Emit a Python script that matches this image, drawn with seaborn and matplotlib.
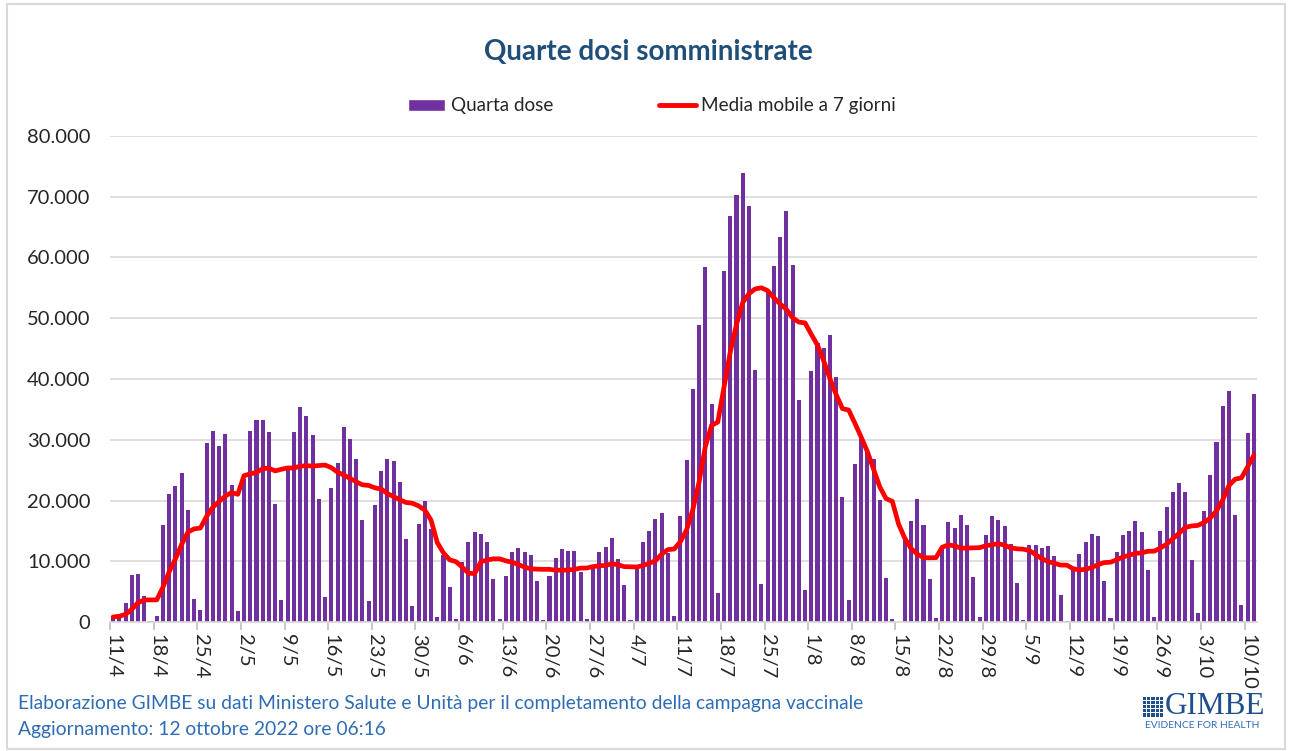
import pandas as pd
import matplotlib.pyplot as plt
import seaborn as sns
from matplotlib.lines import Line2D
from matplotlib.patches import Patch, Rectangle
from matplotlib.ticker import FuncFormatter

# Quarte dosi giornaliere, dall'11 aprile all'11 ottobre 2022
dosi = [
    1000, 1300, 3100, 7750, 7850, 4300, 150,
    1000, 16000, 21000, 22400, 24600, 18480, 3800,
    2000, 29400, 31500, 29000, 30900, 22550, 1760,
    23500, 31500, 33200, 33300, 31350, 19500, 3630,
    25000, 31350, 35350, 33950, 30750, 20300, 4100,
    22050, 26100, 32050, 30150, 26750, 16850, 3400,
    19250, 24800, 26900, 26550, 23100, 13700, 2600,
    16100, 19950, 15350, 770, 11050, 5800, 500,
    9800, 13100, 14750, 14450, 13100, 7100, 500,
    7550, 11450, 12150, 11450, 11050, 6750, 330,
    7550, 10500, 12000, 11750, 11750, 8200, 500,
    9150, 11450, 12400, 13800, 10400, 6100, 400,
    8850, 13100, 14900, 17000, 17900, 11350, 1000,
    17450, 26650, 38300, 48850, 58400, 35850, 4850,
    57850, 66800, 70350, 73950, 68550, 41400, 6200,
    54500, 58600, 63350, 67700, 58750, 36550, 5250,
    41300, 46000, 45150, 47250, 40350, 20500, 3600,
    26000, 30200, 28300, 26750, 20100, 7200, 450,
    0, 13650, 16650, 20250, 15900, 7100, 600,
    12000, 16400, 15450, 17600, 16000, 7350, 770,
    14300, 17450, 16850, 15850, 12800, 6400, 330,
    12700, 12650, 12150, 12550, 10850, 4400, 220,
    8600, 11150, 13100, 14450, 14200, 6700, 660,
    11450, 14400, 15000, 16650, 14750, 8600, 770,
    15000, 18900, 21350, 22950, 21450, 10250, 1400,
    18300, 24200, 29600, 35550, 38050, 17600, 2750,
    31050, 37600,
]

media_mobile = [
    830, 940, 1270, 2090, 3190, 3630, 3640,
    3640, 5740, 8290, 10390, 12780, 14800, 15330,
    15470, 17390, 18890, 19830, 20730, 21310, 21020,
    24090, 24390, 24630, 25250, 25310, 24880, 25140,
    25360, 25340, 25650, 25740, 25650, 25760, 25830,
    25410, 24660, 24190, 23650, 23080, 22580, 22480,
    22080, 21890, 21150, 20640, 20120, 19670, 19560,
    19110, 18420, 16770, 13080, 11360, 10230, 9930,
    9030, 8050, 7960, 9920, 10210, 10400, 10400,
    10070, 9840, 9470, 9040, 8750, 8700, 8670,
    8670, 8540, 8520, 8560, 8670, 8870, 8890,
    9120, 9260, 9310, 9600, 9410, 9110, 9090,
    9050, 9290, 9650, 10100, 11170, 11920, 12010,
    13230, 15170, 18510, 23060, 28860, 32360, 32910,
    38690, 44420, 49000, 52590, 54040, 54830, 55020,
    54540, 53370, 52360, 51470, 50070, 49370, 49240,
    47350, 45560, 42960, 40030, 37410, 35120, 34890,
    32700, 30440, 28040, 25110, 22210, 20310, 19860,
    16140, 13780, 12110, 11180, 10590, 10570, 10590,
    12310, 12700, 12530, 12150, 12170, 12210, 12230,
    12560, 12710, 12900, 12650, 12190, 12050, 11990,
    11760, 11080, 10410, 9940, 9660, 9370, 9360,
    8770, 8560, 8690, 8970, 9450, 9780, 9840,
    10250, 10710, 10980, 11300, 11380, 11640, 11660,
    12170, 12820, 13720, 14610, 15570, 15810, 15900,
    16370, 17120, 18300, 20100, 22470, 23520, 23720,
    25540, 27460,
]

# Etichette dell'asse x, una ogni 7 giorni
etichette_x = ['11/4', '18/4', '25/4', '2/5', '9/5', '16/5', '23/5', '30/5',
               '6/6', '13/6', '20/6', '27/6', '4/7', '11/7', '18/7', '25/7',
               '1/8', '8/8', '15/8', '22/8', '29/8', '5/9', '12/9', '19/9',
               '26/9', '3/10', '10/10']
tick_y = [0, 10000, 20000, 30000, 40000, 50000, 60000, 70000, 80000]

viola = '#7030A0'
rosso = '#FF0000'
blu_titolo = '#1F4E79'
blu_note = '#2E6DB4'

df = pd.DataFrame({'giorno': range(len(dosi)), 'dosi': dosi, 'media': media_mobile})

sns.set_theme(style='white')
plt.rcParams['font.family'] = ['Lato', 'DejaVu Sans']

W, H = 1289, 751
fig = plt.figure(figsize=(W / 100, H / 100), dpi=100)
ax = fig.add_axes([110 / W, 129 / H, 1147 / W, 486 / H])

sns.barplot(data=df, x='giorno', y='dosi', color=viola, saturation=1,
            width=0.65, linewidth=0, ax=ax, zorder=2)
sns.lineplot(data=df, x='giorno', y='media', color=rosso, linewidth=3.4,
             ax=ax, zorder=3)

# Assi e griglia
ax.set_xlim(-0.5, len(dosi) - 0.5)
ax.set_ylim(0, 80000)
ax.set_yticks(tick_y)
ax.yaxis.set_major_formatter(FuncFormatter(lambda v, _: f'{int(v):,}'.replace(',', '.')))
ax.yaxis.grid(True, color='#D9D9D9', linewidth=1.2)
ax.set_axisbelow(True)

pos_etichette = list(range(0, len(dosi), 7))
ax.set_xticks(pos_etichette)
ax.set_xticklabels(etichette_x, rotation=-90, ha='center', va='top')
ax.set_xticks([p - 0.5 for p in pos_etichette], minor=True)
ax.tick_params(axis='x', which='major', length=0, pad=9, labelsize=14.5, labelcolor='#262626')
ax.tick_params(axis='x', which='minor', bottom=True, length=6, width=1.2, color='#BFBFBF')
ax.tick_params(axis='y', length=0, pad=14, labelsize=14.5, labelcolor='#262626')
ax.set_xlabel('')
ax.set_ylabel('')

for lato in ['top', 'right', 'left']:
    ax.spines[lato].set_visible(False)
ax.spines['bottom'].set_color('#D9D9D9')
ax.spines['bottom'].set_linewidth(1.2)

# Titolo e legenda
fig.text(648 / W, 1 - 52 / H, 'Quarte dosi somministrate', ha='center', va='center',
         fontsize=20, fontweight='bold', color=blu_titolo)

handles = [Patch(facecolor=viola, label='Quarta dose'),
           Line2D([], [], color=rosso, linewidth=3.5, label='Media mobile a 7 giorni')]
fig.legend(handles=handles, loc='center', bbox_to_anchor=(652 / W, 1 - 106 / H), ncol=2,
           frameon=False, fontsize=13.6, handlelength=1.95, handleheight=0.6,
           handletextpad=0.3, columnspacing=5.6, labelcolor='#262626')

# Note in basso
fig.text(18 / W, 1 - 704 / H,
         'Elaborazione GIMBE su dati Ministero Salute e Unità per il completamento della campagna vaccinale',
         va='center', fontsize=13.9, color=blu_note)
fig.text(18 / W, 1 - 729 / H, 'Aggiornamento: 12 ottobre 2022 ore 06:16',
         va='center', fontsize=13.9, color=blu_note)

# Logo GIMBE
blu_logo = '#1F4E8C'
for r in range(5):
    for c in range(5):
        x0 = 1143 + c * 4.2
        y0 = 697 + r * 4.1
        fig.add_artist(Rectangle((x0 / W, 1 - (y0 + 3.1) / H), 3.1 / W, 3.1 / H,
                                 facecolor=blu_logo, edgecolor='none',
                                 transform=fig.transFigure))
fig.text(1165 / W, 1 - 707 / H, 'GIMBE', va='center', ha='left', fontsize=22.5,
         family='Liberation Serif', color=blu_logo)
fig.text(1202 / W, 1 - 726 / H, 'EVIDENCE FOR HEALTH', va='center', ha='center',
         fontsize=7.4, color='#2E6DB4')

# Cornice
fig.add_artist(Rectangle((6.5 / W, 2 / H), 1278 / W, (H - 5.5) / H, fill=False,
                         edgecolor='#D9D9D9', linewidth=1.5, transform=fig.transFigure))

fig.savefig('out.png', dpi=100)
